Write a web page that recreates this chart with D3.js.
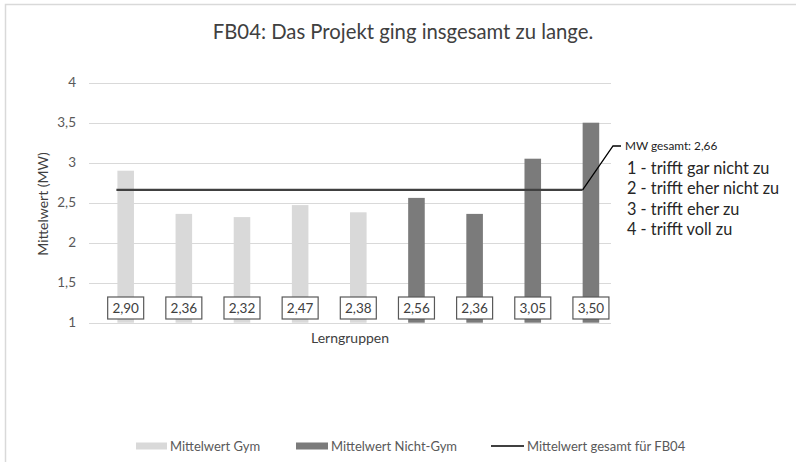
<!DOCTYPE html>
<html><head><meta charset="utf-8">
<script src="https://cdn.jsdelivr.net/npm/d3@7"></script>
<style>body{margin:0;background:#fff;} svg{display:block;font-family:Lato,"Open Sans",sans-serif;}</style>
</head><body><svg id="c" width="796" height="462"></svg>
<script>
const categories = ["1","2","3","4","5","6","7","8","9"];
const groups = ["Gym","Gym","Gym","Gym","Gym","Nicht-Gym","Nicht-Gym","Nicht-Gym","Nicht-Gym"];
const values = [2.90, 2.36, 2.32, 2.47, 2.38, 2.56, 2.36, 3.05, 3.50];
const meanValue = 2.66;
const yTicks = [1, 1.5, 2, 2.5, 3, 3.5, 4];
const scaleNotes = ["1 - trifft gar nicht zu","2 - trifft eher nicht zu","3 - trifft eher zu","4 - trifft voll zu"];
const legendLabels = ["Mittelwert Gym","Mittelwert Nicht-Gym","Mittelwert gesamt für FB04"];

const colors = {"Gym":"#d9d9d9","Nicht-Gym":"#7b7b7b"};
const svg = d3.select("#c");
const fmt = v => d3.format(".2f")(v).replace(".", ",");

// border
svg.append("path").attr("d","M5.5,462 L5.5,4.5 L796,4.5").attr("fill","none").attr("stroke","#d9d9d9").attr("stroke-width",1.5);

const y = d3.scaleLinear().domain([1,4]).range([322.7,82.7]);
const x = d3.scaleBand().domain(categories).range([96.6,620]).paddingInner(0.715).paddingOuter(0.3575);

const gridX0 = 89, gridX1 = 611;
svg.append("g").selectAll("line").data(yTicks).join("line")
  .attr("x1",gridX0).attr("x2",gridX1)
  .attr("y1",d=>Math.round(y(d))+0.5).attr("y2",d=>Math.round(y(d))+0.5)
  .attr("stroke","#d9d9d9").attr("stroke-width",1);

svg.append("g").selectAll("text").data(yTicks).join("text")
  .attr("x",76).attr("y",d=>y(d)+4.5).attr("text-anchor","end")
  .attr("font-size",13.5).attr("fill","#595959")
  .text(d=>String(d).replace(".", ","));

svg.append("g").selectAll("rect").data(values).join("rect")
  .attr("x",(d,i)=>x(categories[i])).attr("width",x.bandwidth())
  .attr("y",d=>y(d)).attr("height",d=>y(1)-y(d))
  .attr("fill",(d,i)=>colors[groups[i]]);

// mean line
const xm0 = x(categories[0]) - 1, xm1 = x(categories[8]);
svg.append("line").attr("x1",xm0).attr("x2",xm1).attr("y1",y(meanValue)).attr("y2",y(meanValue))
  .attr("stroke","#404040").attr("stroke-width",2.2);
// leader
svg.append("path").attr("d",`M${xm1},${y(meanValue)} L613,146 L621,146`).attr("fill","none").attr("stroke","#000").attr("stroke-width",1.3);
svg.append("text").attr("x",625).attr("y",150).attr("font-size",11.8).attr("fill","#222").text("MW gesamt: " + fmt(meanValue));

// data labels
const lbl = svg.append("g").selectAll("g").data(values).join("g")
  .attr("transform",(d,i)=>`translate(${x(categories[i])+x.bandwidth()/2},308)`);
lbl.append("rect").attr("x",-18).attr("y",-11).attr("width",36).attr("height",22)
  .attr("fill","#fff").attr("stroke","#595959").attr("stroke-width",1.2);
lbl.append("text").attr("text-anchor","middle").attr("y",4.8).attr("font-size",13.5).attr("fill","#404040").text(d=>fmt(d));

// titles
svg.append("text").attr("x",403).attr("y",39).attr("text-anchor","middle").attr("font-size",20.3).attr("fill","#404040")
  .text("FB04: Das Projekt ging insgesamt zu lange.");
svg.append("text").attr("transform","translate(48,204) rotate(-90)").attr("text-anchor","middle")
  .attr("font-size",14).attr("fill","#404040").text("Mittelwert (MW)");
svg.append("text").attr("x",350).attr("y",343).attr("text-anchor","middle")
  .attr("font-size",14).attr("fill","#404040").text("Lerngruppen");

// scale notes
svg.append("g").selectAll("text").data(scaleNotes).join("text")
  .attr("x",627).attr("y",(d,i)=>173.5+i*20.5).attr("font-size",16.3).attr("fill","#262626").text(d=>d);

// legend
const leg = svg.append("g");
const lx = [136,296,491];
leg.append("rect").attr("x",lx[0]).attr("y",442.5).attr("width",31).attr("height",7).attr("fill",colors["Gym"]);
leg.append("rect").attr("x",lx[1]).attr("y",442.5).attr("width",32).attr("height",7).attr("fill",colors["Nicht-Gym"]);
leg.append("line").attr("x1",lx[2]).attr("x2",lx[2]+33).attr("y1",446).attr("y2",446).attr("stroke","#404040").attr("stroke-width",2);
leg.selectAll("text").data(legendLabels).join("text")
  .attr("x",(d,i)=>lx[i]+[34,35,36][i]).attr("y",451).attr("font-size",13).attr("fill","#595959").text(d=>d);
</script></body></html>
